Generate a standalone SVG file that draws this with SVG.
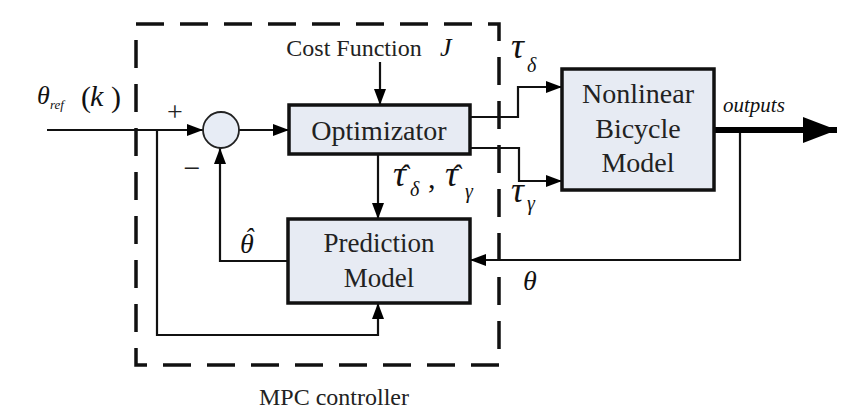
<svg xmlns="http://www.w3.org/2000/svg" width="860" height="420" viewBox="0 0 860 420">
<defs>
<marker id="ah" markerWidth="16" markerHeight="12" refX="16" refY="6" orient="auto" markerUnits="userSpaceOnUse">
<path d="M0,0 L16,6 L0,12 Z" fill="#000"/>
</marker>
<marker id="big" markerWidth="34" markerHeight="26" refX="34" refY="13" orient="auto" markerUnits="userSpaceOnUse">
<path d="M0,0 L34,13 L0,26 Z" fill="#000"/>
</marker>
</defs>
<style>
.blk{fill:#e7ebf3;stroke:#111;stroke-width:3.5}
.lbl{fill:#222;text-anchor:middle}
.math{font-style:italic;fill:#111}
.wire{fill:none;stroke:#111;stroke-width:2.2}
.dash{fill:none;stroke:#111;stroke-width:3.5;stroke-dasharray:28 16}
</style>
<rect width="860" height="420" fill="#fff"/>
<g font-family="Liberation Serif, serif">
<g id="mpc-boundary">
<rect class="dash" x="136" y="24" width="363" height="341"/>
<text class="lbl" x="334" y="405" font-size="24">MPC controller</text>
</g>
<g id="connectors">
<path class="wire" d="M47,130 H203" marker-end="url(#ah)"/>
<path class="wire" d="M157,130 V335 H378 V303" marker-end="url(#ah)"/>
<path class="wire" d="M239,130 H289" marker-end="url(#ah)"/>
<path class="wire" d="M380,62 V105" marker-end="url(#ah)"/>
<path class="wire" d="M470,117 H518 V87 H562" marker-end="url(#ah)"/>
<path class="wire" d="M470,148 H519 V181 H562" marker-end="url(#ah)"/>
<path class="wire" d="M378,154 V219" marker-end="url(#ah)"/>
<path class="wire" d="M288,261 H220 V148" marker-end="url(#ah)"/>
<path class="wire" d="M740,130 V260 H470" marker-end="url(#ah)" stroke-width="3"/>
<path fill="none" stroke="#000" stroke-width="6" d="M714,130 H837" marker-end="url(#big)"/>
</g>
<g id="sum">
<circle cx="221" cy="130" r="18" fill="#e7ecf5" stroke="#222" stroke-width="1.8"/>
<text class="lbl" x="175" y="121" font-size="28" fill="#555">+</text>
<text class="lbl" x="192" y="178" font-size="30" fill="#555">−</text>
</g>
<g id="optimizator">
<rect class="blk" x="289" y="105" width="181" height="49"/>
<text class="lbl" x="379" y="140" font-size="28">Optimizator</text>
</g>
<g id="prediction-model">
<rect class="blk" x="288" y="219" width="182" height="84"/>
<text class="lbl" x="379" y="252" font-size="27">Prediction</text>
<text class="lbl" x="379" y="287" font-size="27">Model</text>
</g>
<g id="bicycle-model">
<rect class="blk" x="562" y="69" width="152" height="121"/>
<text class="lbl" x="638" y="103" font-size="28">Nonlinear</text>
<text class="lbl" x="638" y="138" font-size="28">Bicycle</text>
<text class="lbl" x="638" y="172" font-size="28">Model</text>
</g>
<g id="labels">
<text class="lbl" x="354" y="56" font-size="24">Cost Function</text>
<text class="math" x="440" y="56" font-size="26">J</text>
<text class="math" font-size="26"><tspan x="37" y="104">θ</tspan><tspan font-size="13" x="50" y="109">ref</tspan><tspan font-style="normal" font-size="30" x="81" y="107">(</tspan><tspan font-size="30" x="90" y="106">k</tspan><tspan font-style="normal" font-size="30" x="111" y="107">)</tspan></text>
<text class="math" x="511" y="58" font-size="36">τ<tspan font-size="20" dy="14" dx="3">δ</tspan></text>
<text class="math" x="511" y="202" font-size="36">τ<tspan font-size="20" dy="8" dx="3">γ</tspan></text>
<text class="math" font-size="36"><tspan x="393" y="186">τ</tspan><tspan font-size="20" x="410" y="196">δ</tspan><tspan font-style="normal" font-size="30" x="428" y="188">,</tspan><tspan x="445" y="186">τ</tspan><tspan font-size="20" x="465" y="198">γ</tspan></text>
<text class="math" x="404" y="185" font-size="30" text-anchor="middle">ˆ</text>
<text class="math" x="456" y="185" font-size="30" text-anchor="middle">ˆ</text>
<text class="math" x="240" y="253" font-size="28">θ</text>
<text class="math" x="249" y="246" font-size="26" text-anchor="middle">ˆ</text>
<text class="math" x="523" y="290" font-size="28">θ</text>
<text class="math" x="723" y="112" font-size="21">outputs</text>
</g>
</g>
</svg>
